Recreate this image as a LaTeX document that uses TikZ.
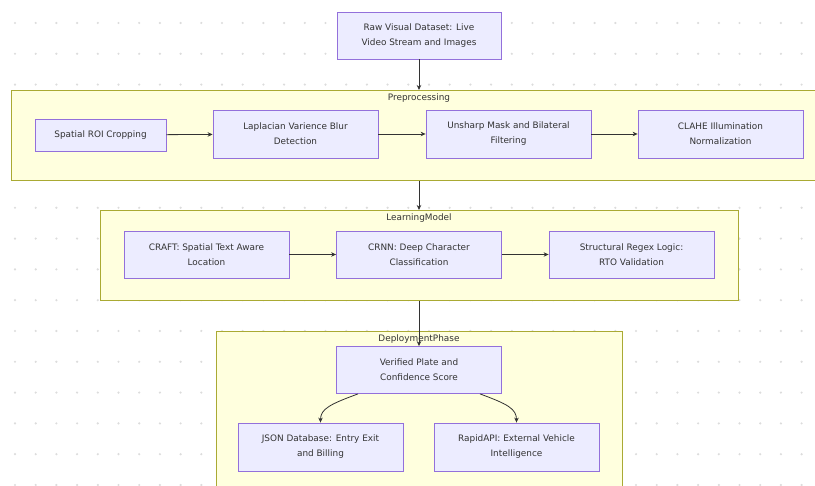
\documentclass[tikz,border=0pt]{standalone}
\usepackage{fontspec}
\setmainfont{DejaVu Sans}
\usetikzlibrary{arrows.meta,calc}
\definecolor{nodefill}{HTML}{ECECFF}
\definecolor{nodeline}{HTML}{9370DB}
\definecolor{clfill}{HTML}{FFFFDE}
\definecolor{clline}{HTML}{AAAA33}
\definecolor{txt}{HTML}{333333}
\definecolor{dotc}{HTML}{DCDCDC}
\tikzset{
  box/.style={draw=nodeline, fill=nodefill, line width=0.8pt, align=center, text=txt,
    font=\fontsize{8.9}{15}\selectfont, inner sep=0pt},
  cluster/.style={draw=clline, fill=clfill, line width=0.8pt},
  cltitle/.style={text=txt, font=\fontsize{8.9}{10}\selectfont, inner sep=0pt},
  conn/.style={draw=txt, line width=0.8pt, -{Stealth[length=5pt,width=4.5pt]}},
}
\begin{document}
\begin{tikzpicture}[x=1pt,y=-1pt]
\useasboundingbox (0,0) rectangle (815,486);
\clip (0,0) rectangle (815,486);
\fill[white] (0,0) rectangle (815,486);
% dot grid
\foreach \i in {0,...,39} {
  \foreach \j in {0,...,15} {
    \fill[dotc] ({15+20.7*\i},{23+30.8*\j}) circle (1.2);
  }
}
% clusters
\node[cluster, minimum width=805pt, minimum height=90pt, anchor=north west] (prep) at (11,90) {};
\node[cluster, minimum width=638pt, minimum height=90pt, anchor=north west] (learn) at (100,210) {};
\node[cluster, minimum width=406pt, minimum height=170pt, anchor=north west] (deploy) at (216,331) {};
\node[cltitle] (prept) at (419,98) {Preprocessing};
\node[cltitle] (learnt) at (419,218) {LearningModel};
\node[cltitle] (deployt) at (419,339) {DeploymentPhase};
% nodes
\node[box, minimum width=164pt, minimum height=47pt] (raw) at (419,35.5) {Raw Visual Dataset: Live\\Video Stream and Images};
\node[box, minimum width=131pt, minimum height=32pt] (roi) at (100.5,135) {Spatial ROI Cropping};
\node[box, minimum width=165pt, minimum height=48pt] (lap) at (295.5,134) {Laplacian Varience Blur\\Detection};
\node[box, minimum width=165pt, minimum height=48pt] (uns) at (508.5,134) {Unsharp Mask and Bilateral\\Filtering};
\node[box, minimum width=165pt, minimum height=48pt] (clahe) at (720.5,134) {CLAHE Illumination\\Normalization};
\node[box, minimum width=165pt, minimum height=47pt] (craft) at (206.5,254.5) {CRAFT: Spatial Text Aware\\Location};
\node[box, minimum width=165pt, minimum height=47pt] (crnn) at (419,254.5) {CRNN: Deep Character\\Classification};
\node[box, minimum width=165pt, minimum height=47pt] (regex) at (631.5,254.5) {Structural Regex Logic:\\RTO Validation};
\node[box, minimum width=165pt, minimum height=47pt] (verif) at (419,370) {Verified Plate and\\Confidence Score};
\node[box, minimum width=165pt, minimum height=48pt] (json) at (320.5,447) {JSON Database: Entry Exit\\and Billing};
\node[box, minimum width=165pt, minimum height=48pt] (rapid) at (516.5,447) {RapidAPI: External Vehicle\\Intelligence};
% connectors
\draw[conn] (raw.south) -- (raw.south |- prep.north);
\draw[conn] (roi) -- (lap);
\draw[conn] (lap) -- (uns);
\draw[conn] (uns) -- (clahe);
\draw[conn] (prep.south -| raw.south) -- (learn.north -| raw.south);
\draw[conn] (craft) -- (crnn);
\draw[conn] (crnn) -- (regex);
\draw[conn] (learn.south -| verif.north) -- (verif.north);
\draw[conn] ($(verif.south)+(-61,0)$) .. controls ($(verif.south)+(-88,10)$) and ($(json.north)+(0,-14)$) .. (json.north);
\draw[conn] ($(verif.south)+(61,0)$) .. controls ($(verif.south)+(88,10)$) and ($(rapid.north)+(0,-14)$) .. (rapid.north);
\end{tikzpicture}
\end{document}
